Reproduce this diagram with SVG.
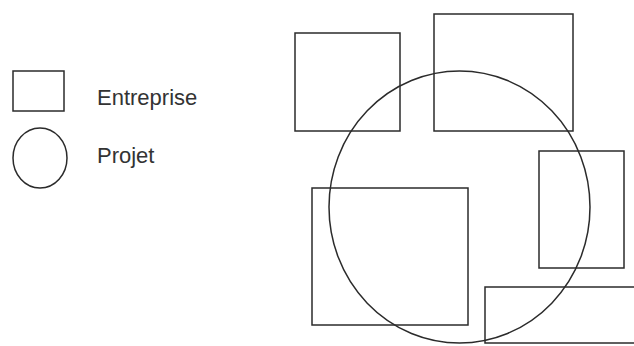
<svg xmlns="http://www.w3.org/2000/svg" width="634" height="346" viewBox="0 0 634 346">
<style>
.s{fill:none;stroke:#2b2b2b;stroke-width:1.5}
.t{font-family:"Liberation Sans",Arial,sans-serif;font-size:22px;fill:#333}
</style>
<rect width="634" height="346" fill="#fff"/>
<g id="legend">
<g id="legend-entreprise"><rect class="s" x="13" y="71" width="51" height="40"/><text class="t" x="97" y="105">Entreprise</text></g>
<g id="legend-projet"><ellipse class="s" cx="40" cy="158" rx="27" ry="30"/><text class="t" x="97" y="163">Projet</text></g>
</g>
<g id="e1"><rect class="s" x="295" y="33" width="105" height="98"/></g>
<g id="e2"><rect class="s" x="434" y="14" width="139" height="117"/></g>
<g id="e3"><rect class="s" x="539" y="151" width="85" height="117"/></g>
<g id="e4"><rect class="s" x="312" y="188" width="156" height="137"/></g>
<g id="e5"><rect class="s" x="485" y="287" width="160" height="56"/></g>
<g id="projet"><ellipse class="s" cx="459.5" cy="207" rx="130.5" ry="136"/></g>
<g id="connectors"/>
</svg>
